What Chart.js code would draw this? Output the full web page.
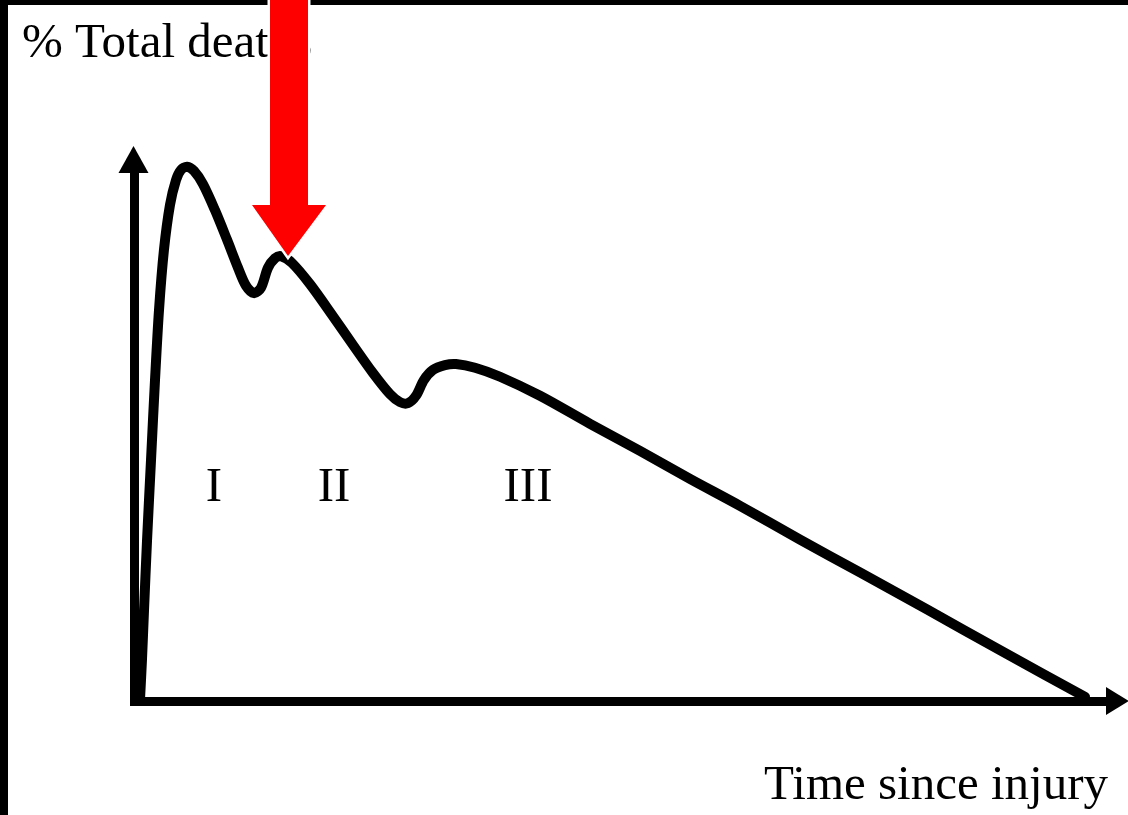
<!DOCTYPE html>
<html>
<head>
<meta charset="utf-8">
<script src="https://cdn.jsdelivr.net/npm/chart.js@4/dist/chart.umd.min.js"></script>
<style>
  html, body { margin: 0; padding: 0; background: #fff; }
  #wrap { position: relative; width: 1128px; height: 815px; }
  canvas { display: block; }
</style>
</head>
<body>
<div id="wrap"><canvas id="c" width="1128" height="815"></canvas></div>
<script>
// Curve: time since injury (x) vs % total deaths (y), arbitrary units
const timeValues  = [0.62, 0.82, 1.03, 1.34, 1.75, 2.16, 2.57, 3.08, 3.70, 4.32, 4.83, 5.45,
                     6.17, 7.09, 8.32, 9.56, 10.69, 11.51, 12.33, 13.05, 13.77, 14.49, 15.11,
                     16.24, 18.09, 20.35, 22.51, 24.56, 26.31, 27.34, 28.16, 28.98, 29.80, 30.73,
                     31.96, 33.09, 35.05, 37.62, 41.73, 46.87, 52.00, 57.14, 62.28, 68.45, 74.61,
                     81.50, 89.00, 97.74];
const deathValues = [0.4, 7.8, 17.2, 30.4, 45.6, 60.7, 73.9, 85.3, 93.8, 98.5, 100.4, 101.0,
                     100.2, 97.7, 92.8, 87.2, 81.9, 78.5, 77.1, 78.1, 81.9, 83.7, 84.1,
                     82.8, 78.8, 73.0, 67.3, 62.0, 58.0, 56.5, 56.3, 57.7, 60.7, 62.6,
                     63.5, 63.7, 63.0, 61.3, 57.7, 52.4, 47.3, 42.0, 36.9, 30.5, 24.3,
                     17.3, 9.6, 0.8];
// Phase labels
const phaseLabels = ['I', 'II', 'III'];
const phaseX      = [8.22, 20.55, 40.49];
const phaseY      = 37.8;
const yAxisTitle  = '% Total deaths';
const xAxisTitle  = 'Time since injury';

const points = timeValues.map((t, i) => ({ x: t, y: deathValues[i] }));

const decor = {
  id: 'decor',
  beforeDraw(chart) {
    const ctx = chart.ctx;
    ctx.save();
    ctx.fillStyle = '#fff';
    ctx.fillRect(0, 0, chart.width, chart.height);
    ctx.fillStyle = '#000';
    ctx.fillRect(0, 0, 8, chart.height);
    ctx.fillRect(0, 0, chart.width, 5);
    ctx.font = '49px "Liberation Serif", "Times New Roman", serif';
    ctx.textBaseline = 'alphabetic';
    ctx.textAlign = 'left';
    ctx.fillText(yAxisTitle, 22, 57);
    ctx.textAlign = 'right';
    ctx.fillText(xAxisTitle, 1108, 799);
    const xs = chart.scales.x, ys = chart.scales.y;
    ctx.textAlign = 'center';
    phaseLabels.forEach((lab, i) => {
      ctx.fillText(lab, xs.getPixelForValue(phaseX[i]), ys.getPixelForValue(phaseY));
    });
    ctx.restore();
  },
  afterDraw(chart) {
    const ctx = chart.ctx;
    const a = chart.chartArea;
    ctx.save();
    ctx.fillStyle = '#000';
    // y-axis arrowhead
    ctx.beginPath();
    ctx.moveTo(a.left - 0.5, 146);
    ctx.lineTo(a.left + 14.5, a.top + 1);
    ctx.lineTo(a.left - 15.5, a.top + 1);
    ctx.closePath();
    ctx.fill();
    // x-axis arrowhead
    ctx.beginPath();
    ctx.moveTo(1129, a.bottom);
    ctx.lineTo(a.right - 1, a.bottom - 14);
    ctx.lineTo(a.right - 1, a.bottom + 14);
    ctx.closePath();
    ctx.fill();
    // red arrow pointing at the second peak
    ctx.beginPath();
    ctx.moveTo(270, -10);
    ctx.lineTo(308, -10);
    ctx.lineTo(308, 205);
    ctx.lineTo(326, 205);
    ctx.lineTo(288, 256);
    ctx.lineTo(252, 205);
    ctx.lineTo(270, 205);
    ctx.closePath();
    ctx.lineJoin = 'miter';
    ctx.strokeStyle = '#fff';
    ctx.lineWidth = 5;
    ctx.stroke();
    ctx.fillStyle = '#ff0000';
    ctx.fill();
    ctx.restore();
  }
};

new Chart(document.getElementById('c'), {
  type: 'line',
  data: {
    datasets: [{
      data: points,
      borderColor: '#000',
      borderWidth: 10,
      pointRadius: 0,
      fill: false,
      tension: 0.3,
      clip: false,
      borderCapStyle: 'round',
      borderJoinStyle: 'round'
    }]
  },
  options: {
    responsive: false,
    animation: false,
    layout: { padding: { left: 134, top: 172, right: 21, bottom: 114 } },
    plugins: { legend: { display: false }, tooltip: { enabled: false }, title: { display: false } },
    scales: {
      x: {
        type: 'linear', min: 0, max: 100,
        grid: { display: false, drawTicks: false },
        ticks: { display: false },
        border: { display: true, color: '#000', width: 9 }
      },
      y: {
        type: 'linear', min: 0, max: 100,
        grid: { display: false, drawTicks: false },
        ticks: { display: false },
        border: { display: true, color: '#000', width: 9 }
      }
    }
  },
  plugins: [decor]
});
</script>
</body>
</html>
